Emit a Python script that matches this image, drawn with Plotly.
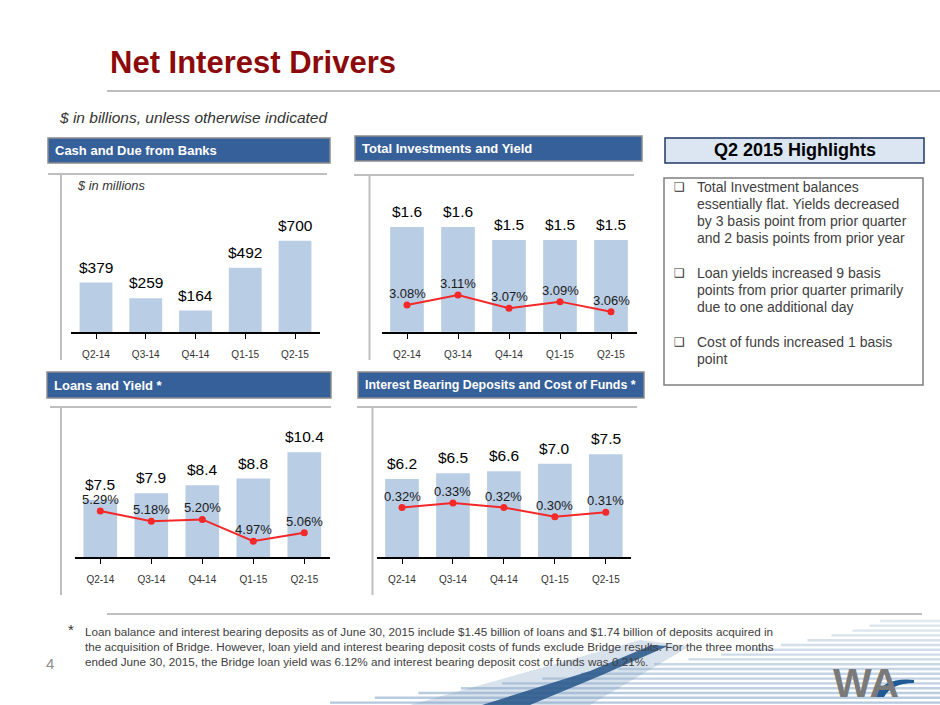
import plotly.graph_objects as go

# ---------------- data ----------------
quarters = ["Q2-14", "Q3-14", "Q4-14", "Q1-15", "Q2-15"]

cash_values = [379, 259, 164, 492, 700]            # $ millions
inv_values = [1.6, 1.6, 1.5, 1.5, 1.5]             # $ billions
inv_yield = [3.08, 3.11, 3.07, 3.09, 3.06]         # %
loan_values = [7.5, 7.9, 8.4, 8.8, 10.4]           # $ billions
loan_yield = [5.29, 5.18, 5.20, 4.97, 5.06]        # %
dep_values = [6.2, 6.5, 6.6, 7.0, 7.5]             # $ billions
dep_cost = [0.32, 0.33, 0.32, 0.30, 0.31]          # %

highlights = [
    ["Total Investment balances", "essentially flat. Yields decreased",
     "by 3 basis point from prior quarter", "and 2 basis points from prior year"],
    ["Loan yields increased 9 basis", "points from prior quarter primarily",
     "due to one additional day"],
    ["Cost of funds increased 1 basis", "point"],
]
footnote = [
    "Loan balance and interest bearing deposits as of June 30, 2015 include $1.45 billion of loans and $1.74 billion of deposits acquired in",
    "the acquisition of Bridge. However, loan yield and interest bearing deposit costs of funds exclude Bridge results. For the three months",
    "ended June 30, 2015, the Bridge loan yield was 6.12% and interest bearing deposit cost of funds was 0.21%.",
]

# ---------------- geometry helpers ----------------
W, H = 940, 705
FONT = "Liberation Sans, Arial, sans-serif"
BAR = "#B9CDE5"
RED = "#F42828"
HDR = "#36609A"
GRAY = "#BFBFBF"
TXT = "#404040"


def px(x):
    return x / W


def py(y):
    return 1 - y / H


shapes = []
annotations = []


def hline(x0, x1, y, color=GRAY, width=2):
    shapes.append(dict(type="line", xref="paper", yref="paper", x0=px(x0), x1=px(x1),
                       y0=py(y), y1=py(y), line=dict(color=color, width=width)))


def vline(x, y0, y1, color=GRAY, width=2):
    shapes.append(dict(type="line", xref="paper", yref="paper", x0=px(x), x1=px(x),
                       y0=py(y0), y1=py(y1), line=dict(color=color, width=width)))


def rect(x0, y0, x1, y1, fill, line_color, lw=1.5):
    shapes.append(dict(type="rect", xref="paper", yref="paper", x0=px(x0), x1=px(x1),
                       y0=py(y1), y1=py(y0), fillcolor=fill,
                       line=dict(color=line_color, width=lw), layer="below"))


def text(x, y, s, size, color=TXT, bold=False, italic=False, xanchor="left",
         family=FONT):
    if bold:
        s = "<b>" + s + "</b>"
    if italic:
        s = "<i>" + s + "</i>"
    annotations.append(dict(xref="paper", yref="paper", x=px(x), y=py(y), text=s,
                            showarrow=False, xanchor=xanchor, yanchor="middle",
                            font=dict(family=family, size=size, color=color)))


# ---------------- background decoration ----------------
for i in range(18):
    yy = 621 + i * 4.8
    xs = 880 - (880 - 330) * (i / 17) ** 1.4
    shapes.append(dict(type="line", xref="paper", yref="paper", x0=px(xs), x1=px(W),
                       y0=py(yy), y1=py(yy), layer="below",
                       line=dict(color="#A9C0D8", width=2.4), opacity=0.35 + 0.5 * i / 17))
shapes.append(dict(type="path", xref="paper", yref="paper", layer="below",
                   path="M %f,%f L %f,%f L %f,%f L %f,%f Z" % (
                       px(410), py(705), px(590), py(705), px(690), py(646), px(640), py(640)),
                   fillcolor="#7D9FC4", opacity=0.3, line=dict(width=0)))
shapes.append(dict(type="path", xref="paper", yref="paper", layer="below",
                   path="M %f,%f L %f,%f L %f,%f L %f,%f L %f,%f L %f,%f Z" % (
                       px(482), py(705), px(530), py(705), px(602), py(675),
                       px(668), py(646), px(652), py(645), px(590), py(671)),
                   fillcolor="#245487", opacity=0.85, line=dict(width=0)))

# ---------------- page furniture ----------------
text(108, 62, "Net Interest Drivers", 31, color="#8C0A0A", bold=True)
hline(107, 940, 91)
text(57, 117, "$ in billions, unless otherwise indicated", 15.5, color="#333333", italic=True)

headers = [
    (48, 138, 330, 163, "Cash and Due from Banks", 13),
    (355, 136, 642, 161, "Total Investments and Yield", 13),
    (47, 372, 331, 398, "Loans and Yield *", 13),
    (358, 372, 644, 398, "Interest Bearing Deposits and Cost of Funds *", 12.4),
]
for x0, y0, x1, y1, t, fs in headers:
    rect(x0, y0, x1, y1, HDR, "#8C8C8C", 1.5)
    text(x0 + 4.5, (y0 + y1) / 2, t, fs, color="white", bold=True)

# chart frame lines
hline(48, 327, 174)
vline(61, 174, 360)
hline(354, 634, 175)
vline(369.5, 175, 360)
hline(50, 331, 407)
vline(61, 407, 595)
hline(357, 637, 407)
vline(372.5, 407, 595)

text(75, 185, "$ in millions", 12.8, color="#333333", italic=True)

# highlights
rect(665, 138, 924, 163, "#DCE6F2", "#1F3864", 1.5)
text(794.5, 150, "Q2 2015 Highlights", 18, color="black", bold=True, xanchor="center")
rect(664, 178, 923, 385, "white", "#7F7F7F", 1.5)
bullet_tops = [187.3, 272.7, 341.7]
for top, lines in zip(bullet_tops, highlights):
    text(671.5, top, "\u2751", 12, color="#303030", family="DejaVu Sans")
    for k, ln in enumerate(lines):
        text(694.5, top + 17 * k, ln, 14, color=TXT)

# footnote
hline(107, 922, 614)
text(66, 629, "*", 15, color="#333333")
for k, ln in enumerate(footnote):
    text(83, 631 + 15.2 * k, ln, 11.7, color=TXT)
text(44, 663, "4", 15, color="#8C8C8C")

# logo
text(831, 683, "WA", 41, color="#7A7A7A", bold=True)
shapes.append(dict(type="path", xref="paper", yref="paper",
                   path="M %f,%f Q %f,%f %f,%f L %f,%f Q %f,%f %f,%f Z" % (
                       px(874), py(697), px(884), py(677), px(914), py(680),
                       px(914), py(683), px(892), py(683), px(884), py(697)),
                   fillcolor="#1F5A96", line=dict(width=0)))

# ---------------- charts ----------------
fig = go.Figure()

charts = [
    dict(xa="x", ya="y", ys=None, c0=96, c1=295, base=332, top=200, pmin=0, ppu=0.1305,
         vals=cash_values, rates=None, fmt="${:.0f}"),
    dict(xa="x2", ya="y2", ys="y3", c0=407, c1=611, base=331.7, top=190, pmin=0.8, ppu=131,
         smin=3.0, sppu=334, vals=inv_values, rates=inv_yield, fmt="${:.1f}"),
    dict(xa="x3", ya="y4", ys="y5", c0=100.3, c1=304.3, base=557.3, top=420, pmin=4.0, ppu=16.4,
         smin=4.8, sppu=94.7, vals=loan_values, rates=loan_yield, fmt="${:.1f}"),
    dict(xa="x4", ya="y6", ys="y7", c0=402, c1=605.8, base=557.3, top=420, pmin=2.07, ppu=18.97,
         smin=0.213, sppu=465, vals=dep_values, rates=dep_cost, fmt="${:.1f}"),
]

layout_axes = {}


def axname(a):
    return "xaxis" + a[1:] if a.startswith("x") else "yaxis" + a[1:]


for c in charts:
    sp = (c["c1"] - c["c0"]) / 4
    xd = [px(c["c0"] - sp / 2), px(c["c1"] + sp / 2)]
    yd = [py(c["base"]), py(c["top"])]
    h = c["base"] - c["top"]
    layout_axes[axname(c["xa"])] = dict(
        domain=xd, anchor=c["ya"], type="category", range=[-0.5, 4.5],
        showline=True, linecolor="black", linewidth=1.6, ticks="outside", ticklen=5,
        tickwidth=1, tickcolor="black", showgrid=False, zeroline=False,
        tickfont=dict(family=FONT, size=10, color="#333333"), ticklabelstandoff=7,
        fixedrange=True)
    layout_axes[axname(c["ya"])] = dict(
        domain=yd, anchor=c["xa"], range=[c["pmin"], c["pmin"] + h / c["ppu"]],
        visible=False, fixedrange=True)
    fig.add_trace(go.Bar(x=quarters, y=c["vals"], xaxis=c["xa"], yaxis=c["ya"],
                         marker=dict(color=BAR, line=dict(width=0)), showlegend=False,
                         hoverinfo="skip"))
    for q, v in zip(quarters, c["vals"]):
        annotations.append(dict(xref=c["xa"], yref=c["ya"], x=q, y=v, text=c["fmt"].format(v),
                                showarrow=False, yanchor="bottom", yshift=5,
                                font=dict(family=FONT, size=15.5, color="black")))
    if c["rates"] is not None:
        layout_axes[axname(c["ys"])] = dict(
            overlaying=c["ya"], anchor=c["xa"], side="right",
            range=[c["smin"], c["smin"] + h / c["sppu"]], visible=False, fixedrange=True)
        fig.add_trace(go.Scatter(x=quarters, y=c["rates"], xaxis=c["xa"], yaxis=c["ys"],
                                 mode="lines+markers", line=dict(color=RED, width=2),
                                 marker=dict(color=RED, size=7), showlegend=False,
                                 hoverinfo="skip", cliponaxis=False))
        for q, r in zip(quarters, c["rates"]):
            annotations.append(dict(xref=c["xa"], yref=c["ys"], x=q, y=r,
                                    text="{:.2f}%".format(r), showarrow=False,
                                    yanchor="bottom", yshift=2,
                                    font=dict(family=FONT, size=13, color="#1A1A1A")))

fig.update_layout(
    width=W, height=H, margin=dict(l=0, r=0, t=0, b=0),
    paper_bgcolor="white", plot_bgcolor="rgba(0,0,0,0)",
    bargap=0.34, showlegend=False,
    font=dict(family=FONT),
    shapes=shapes, annotations=annotations,
    **layout_axes,
)

fig.write_html("out.html", config={"displayModeBar": False},
               post_script="document.body.style.margin='0px';"
                           "document.body.style.overflow='hidden';")
